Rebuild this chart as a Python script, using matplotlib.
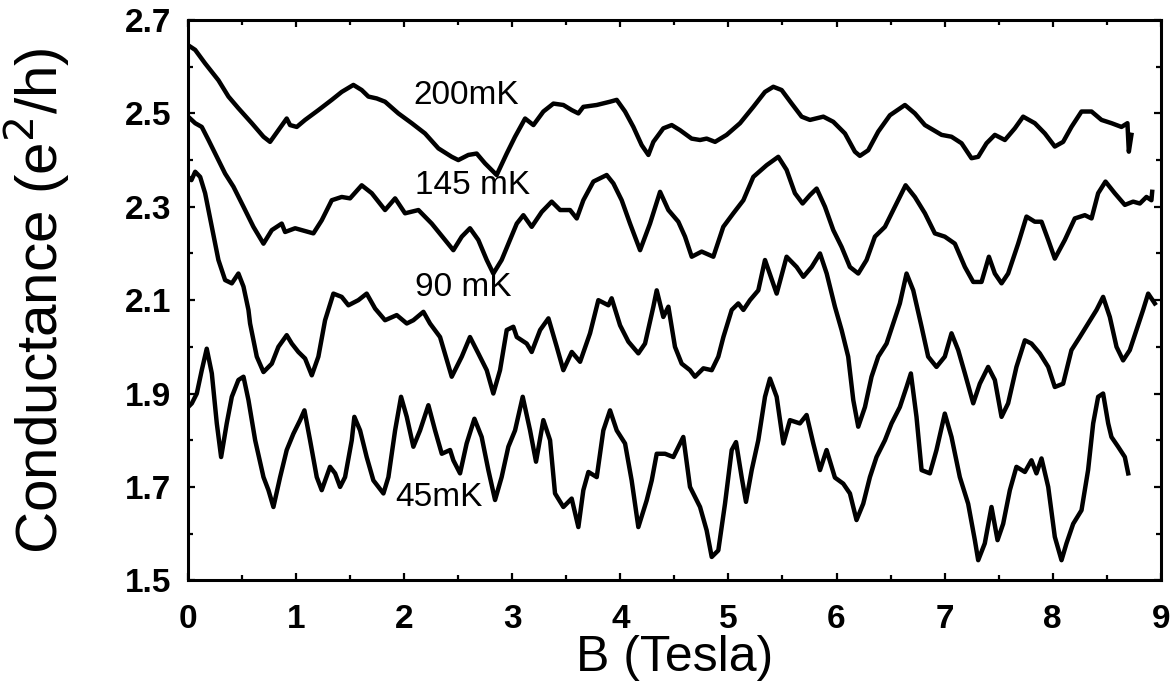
import matplotlib
matplotlib.use("Agg")
import matplotlib.pyplot as plt

plt.rcParams['font.family'] = ['Liberation Sans', 'DejaVu Sans']

# magnetoconductance traces, B in tesla, G in e^2/h
b_200 = [0.0, 0.065, 0.157, 0.28, 0.373, 0.465, 0.589, 0.697, 0.758, 0.835, 0.912, 0.943,
         1.005, 1.082, 1.205, 1.329, 1.421, 1.529, 1.606, 1.668, 1.745, 1.822, 1.945, 2.069,
         2.192, 2.316, 2.439, 2.5, 2.593, 2.67, 2.747, 2.855, 2.948, 3.025, 3.118, 3.195,
         3.287, 3.38, 3.472, 3.55, 3.611, 3.657, 3.781, 3.904, 3.966, 4.043, 4.12, 4.197,
         4.259, 4.305, 4.397, 4.475, 4.552, 4.659, 4.737, 4.798, 4.876, 4.983, 5.107, 5.23,
         5.338, 5.415, 5.492, 5.585, 5.677, 5.754, 5.878, 5.97, 6.078, 6.17, 6.216, 6.293,
         6.386, 6.494, 6.633, 6.725, 6.818, 6.972, 7.064, 7.157, 7.249, 7.311, 7.388, 7.465,
         7.558, 7.65, 7.727, 7.835, 7.928, 8.02, 8.097, 8.174, 8.267, 8.36, 8.452, 8.545,
         8.637, 8.692, 8.705, 8.729]
g_200 = [2.646, 2.636, 2.607, 2.571, 2.536, 2.511, 2.479, 2.45, 2.439, 2.464, 2.489, 2.475,
         2.471, 2.486, 2.507, 2.529, 2.546, 2.561, 2.55, 2.536, 2.532, 2.525, 2.5, 2.479,
         2.457, 2.425, 2.407, 2.4, 2.411, 2.414, 2.393, 2.368, 2.414, 2.45, 2.489, 2.475,
         2.504, 2.521, 2.518, 2.507, 2.5, 2.514, 2.518, 2.525, 2.529, 2.504, 2.471, 2.432,
         2.411, 2.439, 2.468, 2.475, 2.464, 2.446, 2.443, 2.446, 2.439, 2.454, 2.479, 2.514,
         2.546, 2.557, 2.55, 2.521, 2.493, 2.486, 2.493, 2.482, 2.457, 2.418, 2.409, 2.421,
         2.461, 2.496, 2.518, 2.5, 2.475, 2.454, 2.45, 2.436, 2.404, 2.407, 2.436, 2.454,
         2.443, 2.468, 2.493, 2.479, 2.457, 2.429, 2.439, 2.471, 2.504, 2.504, 2.486, 2.479,
         2.471, 2.479, 2.418, 2.454]

b_145 = [0.0, 0.065, 0.126, 0.188, 0.265, 0.342, 0.419, 0.512, 0.604, 0.697, 0.774, 0.866,
         0.897, 0.99, 1.051, 1.159, 1.236, 1.329, 1.421, 1.498, 1.606, 1.699, 1.822, 1.915,
         2.007, 2.131, 2.254, 2.377, 2.454, 2.532, 2.608, 2.685, 2.763, 2.824, 2.901, 2.978,
         3.041, 3.102, 3.179, 3.272, 3.364, 3.442, 3.534, 3.596, 3.657, 3.75, 3.873, 3.935,
         4.012, 4.089, 4.182, 4.274, 4.367, 4.444, 4.536, 4.598, 4.66, 4.752, 4.86, 4.952,
         5.045, 5.138, 5.23, 5.353, 5.461, 5.538, 5.615, 5.686, 5.754, 5.816, 5.893, 5.97,
         6.047, 6.124, 6.201, 6.278, 6.355, 6.448, 6.54, 6.639, 6.725, 6.818, 6.91, 7.002,
         7.095, 7.188, 7.265, 7.342, 7.41, 7.465, 7.527, 7.588, 7.681, 7.758, 7.835, 7.897,
         7.959, 8.02, 8.113, 8.205, 8.298, 8.36, 8.421, 8.489, 8.575, 8.668, 8.745, 8.807,
         8.868, 8.914, 8.921]
g_145 = [2.493, 2.479, 2.471, 2.443, 2.407, 2.371, 2.343, 2.3, 2.257, 2.221, 2.25, 2.264,
         2.246, 2.254, 2.25, 2.243, 2.271, 2.314, 2.321, 2.318, 2.346, 2.329, 2.293, 2.318,
         2.286, 2.293, 2.264, 2.229, 2.207, 2.236, 2.254, 2.229, 2.186, 2.157, 2.186, 2.229,
         2.264, 2.282, 2.257, 2.289, 2.311, 2.293, 2.293, 2.275, 2.314, 2.354, 2.368, 2.35,
         2.314, 2.264, 2.207, 2.264, 2.332, 2.293, 2.268, 2.236, 2.193, 2.204, 2.193, 2.257,
         2.286, 2.314, 2.364, 2.389, 2.407, 2.379, 2.329, 2.307, 2.325, 2.339, 2.3, 2.25,
         2.214, 2.171, 2.157, 2.186, 2.236, 2.257, 2.3, 2.346, 2.321, 2.286, 2.243, 2.236,
         2.221, 2.171, 2.139, 2.139, 2.193, 2.157, 2.136, 2.157, 2.221, 2.279, 2.268, 2.268,
         2.229, 2.189, 2.229, 2.275, 2.282, 2.275, 2.329, 2.354, 2.329, 2.304, 2.311, 2.307,
         2.321, 2.314, 2.332]

b_90 = [0.0, 0.03, 0.065, 0.111, 0.157, 0.219, 0.28, 0.342, 0.404, 0.465, 0.512, 0.558,
        0.573, 0.635, 0.697, 0.774, 0.835, 0.912, 0.959, 1.02, 1.082, 1.144, 1.205, 1.267,
        1.344, 1.421, 1.483, 1.575, 1.652, 1.73, 1.822, 1.93, 2.023, 2.084, 2.177, 2.238,
        2.331, 2.439, 2.532, 2.608, 2.685, 2.763, 2.824, 2.886, 2.948, 3.009, 3.041, 3.133,
        3.179, 3.257, 3.334, 3.411, 3.472, 3.55, 3.627, 3.719, 3.796, 3.889, 3.919, 3.997,
        4.074, 4.166, 4.228, 4.305, 4.336, 4.397, 4.444, 4.505, 4.567, 4.644, 4.69, 4.768,
        4.845, 4.906, 4.953, 5.03, 5.091, 5.138, 5.199, 5.276, 5.338, 5.446, 5.538, 5.631,
        5.693, 5.77, 5.847, 5.909, 5.985, 6.047, 6.108, 6.155, 6.201, 6.263, 6.324, 6.386,
        6.463, 6.525, 6.586, 6.648, 6.71, 6.787, 6.848, 6.925, 7.002, 7.064, 7.126, 7.188,
        7.265, 7.326, 7.403, 7.465, 7.527, 7.588, 7.665, 7.743, 7.804, 7.881, 7.959, 8.02,
        8.097, 8.174, 8.251, 8.328, 8.406, 8.467, 8.529, 8.591, 8.652, 8.714, 8.776, 8.837,
        8.884, 8.945]
g_90 = [2.364, 2.357, 2.375, 2.364, 2.329, 2.257, 2.186, 2.143, 2.136, 2.157, 2.129, 2.079,
        2.05, 1.979, 1.946, 1.964, 2.0, 2.025, 2.007, 1.989, 1.975, 1.939, 1.979, 2.057,
        2.114, 2.107, 2.089, 2.1, 2.114, 2.082, 2.057, 2.068, 2.05, 2.057, 2.075, 2.05,
        2.021, 1.936, 1.979, 2.021, 1.986, 1.95, 1.9, 1.95, 2.036, 2.043, 2.021, 2.007,
        1.989, 2.036, 2.061, 2.0, 1.95, 1.989, 1.968, 2.029, 2.1, 2.089, 2.104, 2.046,
        2.011, 1.986, 2.007, 2.086, 2.121, 2.064, 2.086, 2.0, 1.964, 1.95, 1.936, 1.954,
        1.95, 1.979, 2.021, 2.079, 2.093, 2.079, 2.1, 2.121, 2.186, 2.114, 2.193, 2.171,
        2.15, 2.171, 2.2, 2.157, 2.086, 2.036, 1.979, 1.886, 1.829, 1.871, 1.936, 1.979,
        2.007, 2.05, 2.093, 2.157, 2.121, 2.043, 1.979, 1.957, 1.979, 2.029, 1.993, 1.943,
        1.879, 1.921, 1.957, 1.929, 1.85, 1.879, 1.957, 2.014, 2.007, 1.986, 1.957, 1.914,
        1.921, 1.993, 2.021, 2.05, 2.079, 2.107, 2.064, 2.0, 1.971, 1.993, 2.036, 2.079,
        2.114, 2.093]

b_45 = [0.0, 0.034, 0.08, 0.126, 0.172, 0.219, 0.265, 0.305, 0.357, 0.404, 0.465, 0.512,
        0.558, 0.62, 0.697, 0.743, 0.789, 0.851, 0.912, 0.974, 1.036, 1.076, 1.128, 1.19,
        1.236, 1.313, 1.36, 1.406, 1.452, 1.514, 1.538, 1.591, 1.652, 1.714, 1.807, 1.853,
        1.915, 1.97, 2.023, 2.084, 2.146, 2.223, 2.285, 2.347, 2.424, 2.454, 2.516, 2.577,
        2.649, 2.716, 2.778, 2.84, 2.901, 2.963, 3.025, 3.096, 3.164, 3.219, 3.287, 3.349,
        3.395, 3.472, 3.549, 3.611, 3.657, 3.704, 3.781, 3.842, 3.904, 3.966, 4.043, 4.104,
        4.166, 4.243, 4.29, 4.336, 4.413, 4.49, 4.582, 4.644, 4.737, 4.798, 4.845, 4.906,
        4.968, 5.03, 5.07, 5.122, 5.162, 5.215, 5.276, 5.338, 5.384, 5.446, 5.508, 5.569,
        5.661, 5.723, 5.785, 5.847, 5.908, 5.985, 6.062, 6.124, 6.185, 6.247, 6.309, 6.37,
        6.448, 6.509, 6.586, 6.648, 6.688, 6.74, 6.787, 6.864, 6.925, 7.002, 7.064, 7.141,
        7.218, 7.28, 7.311, 7.372, 7.434, 7.49, 7.542, 7.604, 7.665, 7.743, 7.804, 7.85,
        7.897, 7.959, 8.02, 8.082, 8.128, 8.19, 8.267, 8.328, 8.375, 8.421, 8.467, 8.514,
        8.544, 8.606, 8.668, 8.699]
g_45 = [1.871, 1.879, 1.9, 1.95, 1.996, 1.943, 1.836, 1.764, 1.836, 1.893, 1.929, 1.936,
        1.886, 1.8, 1.721, 1.693, 1.657, 1.721, 1.779, 1.814, 1.843, 1.864, 1.8, 1.721,
        1.693, 1.743, 1.729, 1.7, 1.721, 1.8, 1.85, 1.821, 1.764, 1.714, 1.686, 1.721,
        1.821, 1.893, 1.85, 1.786, 1.821, 1.875, 1.821, 1.771, 1.779, 1.757, 1.729, 1.793,
        1.846, 1.807, 1.736, 1.672, 1.721, 1.786, 1.821, 1.893, 1.821, 1.754, 1.843, 1.8,
        1.686, 1.657, 1.675, 1.614, 1.693, 1.732, 1.721, 1.821, 1.864, 1.821, 1.793, 1.714,
        1.614, 1.671, 1.714, 1.771, 1.771, 1.764, 1.807, 1.7, 1.657, 1.607, 1.55, 1.564,
        1.664, 1.779, 1.796, 1.721, 1.668, 1.736, 1.8, 1.893, 1.932, 1.893, 1.793, 1.843,
        1.836, 1.854, 1.793, 1.736, 1.779, 1.72, 1.707, 1.686, 1.629, 1.664, 1.721, 1.764,
        1.8, 1.836, 1.871, 1.914, 1.943, 1.85, 1.736, 1.729, 1.779, 1.857, 1.807, 1.721,
        1.664, 1.586, 1.543, 1.579, 1.657, 1.586, 1.621, 1.693, 1.743, 1.732, 1.757, 1.729,
        1.761, 1.7, 1.593, 1.543, 1.579, 1.621, 1.65, 1.736, 1.836, 1.893, 1.9, 1.836,
        1.807, 1.786, 1.764, 1.729]

traces = [(b_200, g_200), (b_145, g_145), (b_90, g_90), (b_45, g_45)]
labels = ['200mK', '145 mK', '90 mK', '45mK']
label_b = [2.08, 2.1, 2.1, 1.92]
label_g = [2.539, 2.346, 2.128, 1.678]

x_ticks = [0, 1, 2, 3, 4, 5, 6, 7, 8, 9]
x_minor = [0.5, 1.5, 2.5, 3.5, 4.5, 5.5, 6.5, 7.5, 8.5]
y_ticks = [1.5, 1.7, 1.9, 2.1, 2.3, 2.5, 2.7]
y_minor = [1.6, 1.8, 2.0, 2.2, 2.4, 2.6]

fig = plt.figure(figsize=(11.76, 6.9), dpi=100)
ax = fig.add_axes([0.160, 0.159, 0.827, 0.812])

for b, g in traces:
    ax.plot(b, g, color='black', lw=3.2, solid_joinstyle='round')

for text, xb, yg in zip(labels, label_b, label_g):
    ax.text(xb, yg, text, fontsize=24, ha='left', va='center', color='black')

ax.set_xlim(0, 9)
ax.set_ylim(1.5, 2.7)
ax.set_xticks(x_ticks, [str(v) for v in x_ticks], fontsize=24, fontweight='bold')
ax.set_yticks(y_ticks, ['%.1f' % v for v in y_ticks], fontsize=24, fontweight='bold')
ax.set_xticks(x_minor, minor=True)
ax.set_yticks(y_minor, minor=True)
ax.tick_params(which='both', direction='in', top=True, right=True, width=1.6)
ax.tick_params(which='major', length=5)
ax.tick_params(which='minor', length=3.5)
ax.tick_params(axis='x', which='major', pad=17)
ax.tick_params(axis='y', which='major', pad=12)
for sp in ax.spines.values():
    sp.set_linewidth(2.2)

ax.set_xlabel('B (Tesla)', fontsize=36, labelpad=0)
ax.set_ylabel('Conductance (e$^2$/h)', fontsize=42, labelpad=38)

fig.savefig('out.png', dpi=100)
